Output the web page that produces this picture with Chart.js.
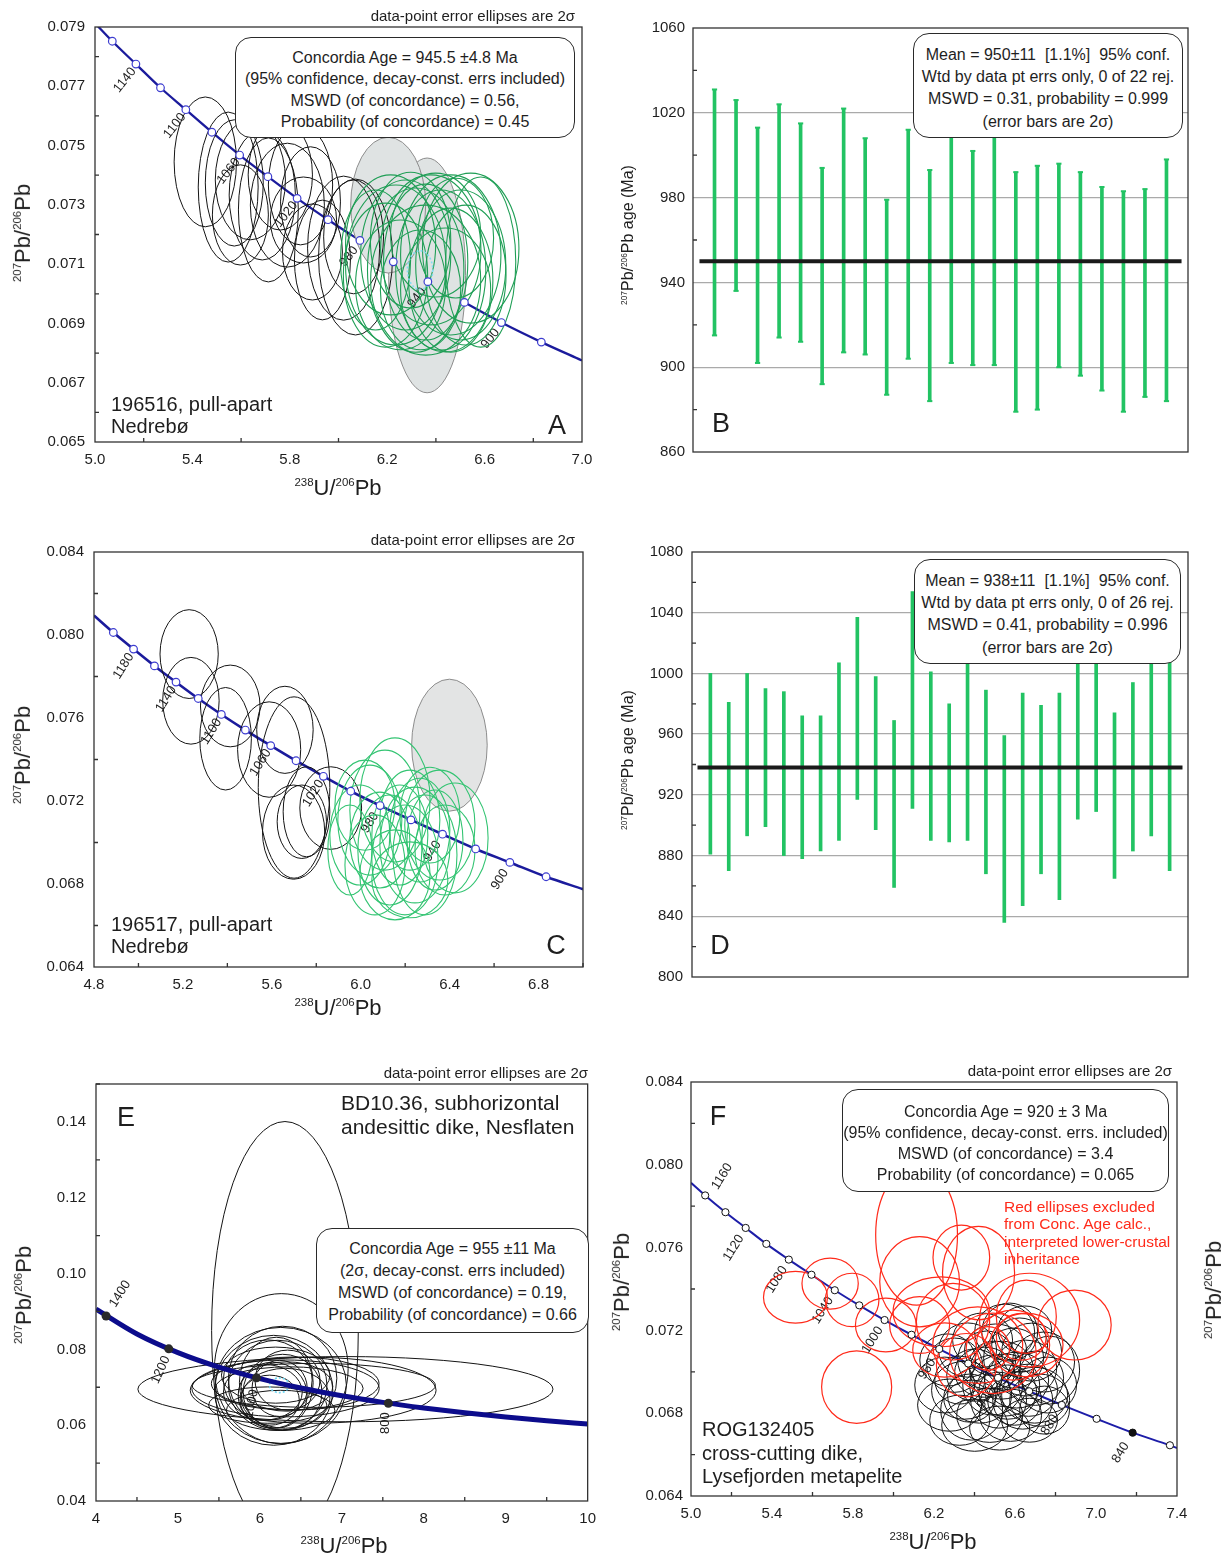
<!DOCTYPE html>
<html>
<head>
<meta charset="utf-8">
<script src="https://cdn.jsdelivr.net/npm/chart.js@4.4.1/dist/chart.umd.min.js"></script>
<style>
  body { margin: 0; background: #fff; }
  #page { position: relative; width: 1228px; height: 1557px; overflow: hidden;
          font-family: "Liberation Sans", Arial, sans-serif; color: #1e1e1e; }
  canvas { position: absolute; }
  .tx { position: absolute; white-space: nowrap; line-height: 1; }
  .mid { transform: translate(-50%, -50%); }
  .rot { transform: translate(-50%, -50%) rotate(-90deg); }
  .s { font-size: 0.52em; vertical-align: 0.8em; }
  .box { position: absolute; box-sizing: border-box; border: 1.3px solid #2a2a2a; border-radius: 16px;
         background: #fff; text-align: center; font-size: 16px; white-space: nowrap; }
  .dp { font-size: 15px; }
</style>
</head>
<body>
<div id="page">
  <canvas id="cA" width="605" height="510" style="left:0;top:0"></canvas>
  <canvas id="cB" width="623" height="510" style="left:605px;top:0"></canvas>
  <canvas id="cC" width="605" height="520" style="left:0;top:520px"></canvas>
  <canvas id="cD" width="623" height="520" style="left:605px;top:520px"></canvas>
  <canvas id="cE" width="605" height="507" style="left:0;top:1050px"></canvas>
  <canvas id="cF" width="623" height="507" style="left:605px;top:1050px"></canvas>

  <!-- A -->
  <div class="tx dp" style="right:653px;top:8px">data-point error ellipses are 2σ</div>
  <div class="box" style="left:235px;top:37px;width:340px;height:101px;padding-top:9px;line-height:21.3px">
    Concordia Age = 945.5 ±4.8 Ma<br>(95% confidence, decay-const. errs included)<br>MSWD (of concordance) = 0.56,<br>Probability (of concordance) = 0.45</div>
  <div class="tx" style="left:111px;top:393px;font-size:20px;line-height:22px">196516, pull-apart<br>Nedrebø</div>
  <div class="tx mid" style="left:557px;top:425px;font-size:27px">A</div>
  <div class="tx rot" style="left:23px;top:233px;font-size:22px"><span class="s">207</span>Pb/<span class="s">206</span>Pb</div>
  <div class="tx mid" style="left:338px;top:488px;font-size:22px"><span class="s">238</span>U/<span class="s">206</span>Pb</div>

  <!-- B -->
  <div class="box" style="left:913px;top:33px;width:270px;height:105px;padding-top:10px;line-height:22.2px">
    Mean = 950±11&nbsp; [1.1%]&nbsp; 95% conf.<br>Wtd by data pt errs only, 0 of 22 rej.<br>MSWD = 0.31, probability = 0.999<br>(error bars are 2σ)</div>
  <div class="tx mid" style="left:721px;top:423px;font-size:27px">B</div>
  <div class="tx rot" style="left:628px;top:235px;font-size:16px"><span class="s">207</span>Pb/<span class="s">206</span>Pb age (Ma)</div>

  <!-- C -->
  <div class="tx dp" style="right:653px;top:532px">data-point error ellipses are 2σ</div>
  <div class="tx" style="left:111px;top:913px;font-size:20px;line-height:22px">196517, pull-apart<br>Nedrebø</div>
  <div class="tx mid" style="left:556px;top:945px;font-size:27px">C</div>
  <div class="tx rot" style="left:23px;top:755px;font-size:22px"><span class="s">207</span>Pb/<span class="s">206</span>Pb</div>
  <div class="tx mid" style="left:338px;top:1008px;font-size:22px"><span class="s">238</span>U/<span class="s">206</span>Pb</div>

  <!-- D -->
  <div class="box" style="left:914px;top:559px;width:267px;height:105px;padding-top:10px;line-height:22.2px">
    Mean = 938±11&nbsp; [1.1%]&nbsp; 95% conf.<br>Wtd by data pt errs only, 0 of 26 rej.<br>MSWD = 0.41, probability = 0.996<br>(error bars are 2σ)</div>
  <div class="tx mid" style="left:720px;top:945px;font-size:27px">D</div>
  <div class="tx rot" style="left:628px;top:760px;font-size:16px"><span class="s">207</span>Pb/<span class="s">206</span>Pb age (Ma)</div>

  <!-- E -->
  <div class="tx dp" style="right:640px;top:1065px">data-point error ellipses are 2σ</div>
  <div class="tx mid" style="left:126px;top:1117px;font-size:27px">E</div>
  <div class="tx" style="left:341px;top:1091px;font-size:21px;line-height:24px">BD10.36, subhorizontal<br>andesittic dike, Nesflaten</div>
  <div class="box" style="left:316px;top:1228px;width:273px;height:105px;padding-top:9px;line-height:22px">
    Concordia Age = 955 ±11 Ma<br>(2σ, decay-const. errs included)<br>MSWD (of concordance) = 0.19,<br>Probability (of concordance) = 0.66</div>
  <div class="tx rot" style="left:24px;top:1295px;font-size:22px"><span class="s">207</span>Pb/<span class="s">206</span>Pb</div>
  <div class="tx mid" style="left:344px;top:1546px;font-size:22px"><span class="s">238</span>U/<span class="s">206</span>Pb</div>

  <!-- F -->
  <div class="tx dp" style="right:56px;top:1063px">data-point error ellipses are 2σ</div>
  <div class="tx mid" style="left:718px;top:1116px;font-size:27px">F</div>
  <div class="box" style="left:842px;top:1089px;width:327px;height:103px;padding-top:11px;line-height:21px">
    Concordia Age = 920 ± 3 Ma<br>(95% confidence, decay-const. errs. included)<br>MSWD (of concordance) = 3.4<br>Probability (of concordance) = 0.065</div>
  <div class="tx" style="left:1004px;top:1198px;font-size:15.5px;line-height:17.3px;color:#ff2a1a">Red ellipses excluded<br>from Conc. Age calc.,<br>interpreted lower-crustal<br>inheritance</div>
  <div class="tx" style="left:702px;top:1418px;font-size:20px;line-height:23.5px">ROG132405<br>cross-cutting dike,<br>Lysefjorden metapelite</div>
  <div class="tx rot" style="left:622px;top:1282px;font-size:22px"><span class="s">207</span>Pb/<span class="s">206</span>Pb</div>
  <div class="tx mid" style="left:933px;top:1542px;font-size:22px"><span class="s">238</span>U/<span class="s">206</span>Pb</div>
  <div class="tx rot" style="left:1214px;top:1290px;font-size:22px"><span class="s">207</span>Pb/<span class="s">206</span>Pb</div>
</div>

<script>
const FONT = '"Liberation Sans", Arial, sans-serif';

// ---------- A : 196516 ----------
const aAges = [1160, 1140, 1120, 1100, 1080, 1060, 1040, 1020, 1000, 980, 960, 940, 920, 900, 880];
const aMarkX = [5.071, 5.168, 5.269, 5.373, 5.480, 5.594, 5.710, 5.830, 5.957, 6.088, 6.225, 6.367, 6.517, 6.669, 6.833];
const aMarkY = [0.07852, 0.07775, 0.07695, 0.07621, 0.07545, 0.07468, 0.07395, 0.07322, 0.07250, 0.07180, 0.07108, 0.07041, 0.06971, 0.06903, 0.06837];
const aEnds = [[5.0, 0.07913], [7.0, 0.06775]];
const aLabelled = [1140, 1100, 1060, 1020, 980, 940, 900];
// ellipses: [centre x, centre y, half width, half height]
const aBlack = [
  [5.453, 0.07445, 0.128, 0.00219], [5.547, 0.07360, 0.123, 0.00253], [5.572, 0.07374, 0.119, 0.00213],
  [5.712, 0.07283, 0.123, 0.00243], [6.070, 0.07124, 0.152, 0.00263], [6.021, 0.07154, 0.148, 0.00243],
  [5.885, 0.07310, 0.123, 0.00186], [5.856, 0.07249, 0.136, 0.00145], [5.790, 0.07299, 0.152, 0.00209],
  [5.893, 0.07141, 0.123, 0.00162], [6.062, 0.07192, 0.123, 0.00192], [5.638, 0.07384, 0.144, 0.00202],
  [5.687, 0.07333, 0.136, 0.00219], [5.761, 0.07401, 0.132, 0.00186], [5.844, 0.07367, 0.132, 0.00202],
  [5.934, 0.07114, 0.115, 0.00202], [5.597, 0.07266, 0.115, 0.00169]
];
const aGreen = [
  [6.235, 0.07097, 0.206, 0.00270], [6.276, 0.07131, 0.185, 0.00253], [6.317, 0.07080, 0.198, 0.00277],
  [6.358, 0.07107, 0.173, 0.00263], [6.379, 0.07148, 0.206, 0.00253], [6.420, 0.07080, 0.185, 0.00270],
  [6.461, 0.07131, 0.206, 0.00270], [6.502, 0.07097, 0.185, 0.00253], [6.543, 0.07154, 0.198, 0.00253],
  [6.523, 0.07063, 0.165, 0.00236], [6.193, 0.07063, 0.173, 0.00243], [6.255, 0.07030, 0.185, 0.00219],
  [6.337, 0.07013, 0.165, 0.00202], [6.440, 0.07013, 0.185, 0.00209], [6.296, 0.07181, 0.165, 0.00229],
  [6.399, 0.07198, 0.185, 0.00209], [6.481, 0.07188, 0.156, 0.00202], [6.152, 0.07114, 0.144, 0.00236],
  [6.584, 0.07107, 0.144, 0.00287], [6.214, 0.07165, 0.185, 0.00236], [6.358, 0.07046, 0.226, 0.00253],
  [6.461, 0.07046, 0.173, 0.00243]
];
const aGrey = [[6.364, 0.07062, 0.158, 0.00396], [6.204, 0.07299, 0.154, 0.00229]];
const aConc = [[6.335, 0.07080, 0.052, 0.00065]];

// ---------- B : 207Pb/206Pb ages, 196516 ----------
const bLow = [915, 936, 902, 914, 912, 892, 907, 906, 887, 904, 884, 902, 901, 901, 879, 880, 900, 896, 889, 879, 886, 884];
const bHigh = [1031, 1026, 1013, 1024, 1015, 994, 1022, 1008, 979, 1012, 993, 1014, 1002, 1012, 992, 995, 996, 992, 985, 983, 984, 998];
const bMean = 950;
const bMeanSpan = [0.3, 22.7];

// ---------- C : 196517 ----------
const cAges = [1200, 1180, 1160, 1140, 1120, 1100, 1080, 1060, 1040, 1020, 1000, 980, 960, 940, 920, 900, 880];
const cMarkX = [4.887, 4.978, 5.072, 5.169, 5.269, 5.373, 5.481, 5.595, 5.709, 5.832, 5.955, 6.087, 6.226, 6.368, 6.517, 6.671, 6.834];
const cMarkY = [0.08012, 0.07932, 0.07851, 0.07773, 0.07694, 0.07617, 0.07542, 0.07467, 0.07394, 0.07319, 0.07247, 0.07178, 0.07109, 0.07040, 0.06969, 0.06904, 0.06835];
const cEnds = [[4.8, 0.08094], [7.0, 0.06775]];
const cLabelled = [1180, 1140, 1100, 1060, 1020, 980, 940, 900];
const cBlack = [
  [5.228, 0.07908, 0.131, 0.00214], [5.236, 0.07683, 0.127, 0.00209], [5.413, 0.07658, 0.134, 0.00197],
  [5.392, 0.07500, 0.116, 0.00247], [5.588, 0.07448, 0.142, 0.00230], [5.659, 0.07543, 0.127, 0.00210],
  [5.700, 0.07265, 0.161, 0.00437], [5.698, 0.07050, 0.140, 0.00227], [5.735, 0.07100, 0.111, 0.00177],
  [5.865, 0.07166, 0.139, 0.00199], [5.756, 0.07148, 0.105, 0.00217]
];
const cGreen = [
  [5.996, 0.07036, 0.135, 0.00241], [6.041, 0.07108, 0.144, 0.00265], [6.086, 0.07012, 0.135, 0.00231],
  [6.109, 0.07156, 0.158, 0.00289], [6.131, 0.06964, 0.144, 0.00265], [6.154, 0.07205, 0.158, 0.00299],
  [6.176, 0.07036, 0.126, 0.00241], [6.199, 0.06916, 0.149, 0.00265], [6.221, 0.07108, 0.135, 0.00241],
  [6.244, 0.06988, 0.158, 0.00279], [6.266, 0.07060, 0.135, 0.00250], [6.289, 0.06940, 0.144, 0.00289],
  [6.311, 0.07132, 0.135, 0.00231], [6.334, 0.07012, 0.126, 0.00241], [6.064, 0.06892, 0.135, 0.00241],
  [6.154, 0.06844, 0.158, 0.00217], [6.356, 0.07084, 0.158, 0.00265], [6.424, 0.07022, 0.149, 0.00265],
  [5.951, 0.06964, 0.099, 0.00217], [6.221, 0.06820, 0.171, 0.00183], [6.379, 0.06964, 0.135, 0.00217],
  [6.019, 0.07180, 0.135, 0.00217]
];
const cGrey = [[6.399, 0.07469, 0.170, 0.00318]];

// ---------- D : 207Pb/206Pb ages, 196517 ----------
const dLow = [881, 870, 893, 899, 880, 878, 883, 890, 917, 897, 859, 911, 890, 889, 890, 868, 836, 847, 868, 851, 904, 909, 865, 883, 893, 870];
const dHigh = [1000, 981, 1000, 990, 988, 972, 972, 1007, 1037, 998, 969, 1054, 1001, 980, 1010, 989, 959, 987, 979, 987, 1018, 1014, 974, 994, 1012, 1008];
const dMean = 938;
const dMeanSpan = [0.3, 26.7];

// ---------- E : BD10.36 ----------
const eCurveX = [4.0, 4.5, 5.0, 5.5, 6.0, 6.5, 7.0, 7.5, 8.0, 8.5, 9.0, 9.5, 10.0];
const eCurveY = [0.09062, 0.08405, 0.07913, 0.07531, 0.07228, 0.06980, 0.06775, 0.06602, 0.06454, 0.06326, 0.06215, 0.06117, 0.06030];
const eAges = [1400, 1200, 1000, 800];
const eMarkX = [4.123, 4.888, 5.959, 7.568];
const eMarkY = [0.08881, 0.08013, 0.07249, 0.06580];
const eBlack = [
  [6.306, 0.0850, 0.895, 0.0551], [6.261, 0.0749, 0.816, 0.0198], [6.256, 0.0705, 0.800, 0.0153],
  [7.044, 0.0695, 2.533, 0.0086], [6.658, 0.0705, 1.484, 0.0058], [6.650, 0.0692, 1.500, 0.0087],
  [6.431, 0.0710, 1.023, 0.0070], [6.168, 0.0692, 0.722, 0.0145], [6.217, 0.0705, 0.602, 0.0119],
  [6.096, 0.0719, 0.542, 0.0106], [6.277, 0.0687, 0.481, 0.0100], [6.156, 0.0679, 0.421, 0.0087],
  [6.241, 0.0697, 0.337, 0.0074], [6.120, 0.0666, 0.361, 0.0066], [6.337, 0.0719, 0.397, 0.0079],
  [6.036, 0.0687, 0.481, 0.0074], [6.313, 0.0671, 0.542, 0.0079], [6.193, 0.0732, 0.662, 0.0074],
  [6.253, 0.0639, 0.662, 0.0053], [6.096, 0.0653, 0.722, 0.0048], [6.313, 0.0697, 1.143, 0.0075],
  [6.357, 0.0697, 0.903, 0.0057], [6.277, 0.0724, 0.662, 0.0137], [6.200, 0.0712, 0.450, 0.0120],
  [6.330, 0.0702, 0.560, 0.0065]
];
const eConc = [[6.237, 0.07053, 0.120, 0.00194]];

// ---------- F : ROG132405 ----------
const fAges = [1160, 1140, 1120, 1100, 1080, 1060, 1040, 1020, 1000, 980, 960, 940, 920, 900, 880, 860, 840, 820];
const fMarkX = [5.070, 5.170, 5.270, 5.372, 5.483, 5.595, 5.710, 5.831, 5.956, 6.089, 6.226, 6.369, 6.516, 6.670, 6.831, 7.003, 7.181, 7.365];
const fMarkY = [0.07852, 0.07771, 0.07695, 0.07618, 0.07542, 0.07469, 0.07394, 0.07321, 0.07250, 0.07179, 0.07110, 0.07040, 0.06971, 0.06906, 0.06840, 0.06773, 0.06706, 0.06645];
const fEnds = [[5.0, 0.07913], [7.4, 0.06632]];
const fLabelled = [1160, 1120, 1080, 1040, 1000, 960, 920, 880, 840];
const fBlack = [
  [6.253, 0.06936, 0.148, 0.00135], [6.277, 0.06839, 0.158, 0.00126], [6.302, 0.07032, 0.138, 0.00131],
  [6.327, 0.06766, 0.148, 0.00121], [6.351, 0.06911, 0.163, 0.00140], [6.366, 0.07105, 0.143, 0.00131],
  [6.386, 0.06815, 0.153, 0.00145], [6.401, 0.06984, 0.138, 0.00126], [6.425, 0.06887, 0.158, 0.00135],
  [6.440, 0.07153, 0.148, 0.00131], [6.460, 0.07057, 0.143, 0.00140], [6.475, 0.06790, 0.163, 0.00131],
  [6.490, 0.06936, 0.148, 0.00145], [6.504, 0.07105, 0.153, 0.00126], [6.519, 0.06863, 0.138, 0.00135],
  [6.534, 0.07008, 0.158, 0.00140], [6.549, 0.07192, 0.148, 0.00135], [6.564, 0.06902, 0.143, 0.00131],
  [6.578, 0.06790, 0.153, 0.00126], [6.593, 0.07066, 0.148, 0.00145], [6.608, 0.06960, 0.158, 0.00135],
  [6.623, 0.07129, 0.138, 0.00131], [6.638, 0.06863, 0.148, 0.00140], [6.653, 0.07018, 0.153, 0.00135],
  [6.667, 0.06911, 0.143, 0.00126], [6.682, 0.07095, 0.148, 0.00140], [6.702, 0.06969, 0.138, 0.00131],
  [6.722, 0.06863, 0.148, 0.00126], [6.741, 0.07047, 0.153, 0.00145], [6.761, 0.06936, 0.143, 0.00135],
  [6.771, 0.07008, 0.148, 0.00164], [6.401, 0.06742, 0.163, 0.00126], [6.524, 0.06728, 0.148, 0.00106],
  [6.672, 0.06766, 0.138, 0.00106], [6.268, 0.07057, 0.138, 0.00126], [6.574, 0.07192, 0.138, 0.00140],
  [6.450, 0.06998, 0.148, 0.00121], [6.598, 0.06863, 0.133, 0.00121], [6.500, 0.07032, 0.128, 0.00116],
  [6.697, 0.06887, 0.163, 0.00135], [6.327, 0.06960, 0.123, 0.00116], [6.648, 0.07202, 0.133, 0.00116],
  [6.746, 0.06815, 0.123, 0.00116], [6.549, 0.06936, 0.173, 0.00150], [6.376, 0.06873, 0.128, 0.00116]
];
const fRed = [
  [5.687, 0.07426, 0.139, 0.00123], [5.516, 0.07360, 0.158, 0.00125], [5.796, 0.07347, 0.132, 0.00129],
  [5.962, 0.07226, 0.150, 0.00130], [5.818, 0.06926, 0.173, 0.00175], [6.114, 0.07661, 0.202, 0.00339],
  [6.335, 0.07552, 0.140, 0.00157], [6.420, 0.07477, 0.178, 0.00226], [6.672, 0.07250, 0.247, 0.00226],
  [6.894, 0.07226, 0.181, 0.00169], [6.129, 0.07435, 0.197, 0.00218], [6.236, 0.07290, 0.238, 0.00169],
  [6.294, 0.07242, 0.181, 0.00185], [6.129, 0.07226, 0.148, 0.00137], [6.416, 0.07129, 0.222, 0.00185],
  [6.491, 0.07089, 0.214, 0.00194], [6.590, 0.07129, 0.181, 0.00169], [6.656, 0.07129, 0.181, 0.00153],
  [6.656, 0.07266, 0.148, 0.00177], [6.253, 0.07105, 0.158, 0.00131], [6.466, 0.07113, 0.107, 0.00105],
  [6.360, 0.07032, 0.148, 0.00153], [6.631, 0.07169, 0.123, 0.00113]
];

// ---------- helpers ----------
function isMajor(v, a) {
  const k = (v - a.min) / a.major;
  return Math.abs(k - Math.round(k)) < 1e-6;
}

function axis(a, pos, size) {
  return {
    type: 'linear', min: a.min, max: a.max, offset: false,
    grid: {display: false, drawTicks: false},
    border: {display: false},
    ticks: {
      stepSize: a.minor, autoSkip: false, maxRotation: 0, padding: a.pad, color: '#1e1e1e',
      font: {family: FONT, size: 15},
      callback: v => isMajor(v, a) ? v.toFixed(a.dec) : ''
    },
    afterFit: s => { if (pos === 'x') s.height = size; else s.width = size; }
  };
}

function frame(chart, withX) {
  const {ctx, chartArea: a, scales} = chart;
  ctx.save();
  ctx.strokeStyle = '#333';
  ctx.lineWidth = 1.3;
  ctx.beginPath();
  if (withX) {
    scales.x.ticks.forEach(t => {
      if (t.label !== '') return;
      const p = scales.x.getPixelForValue(t.value);
      ctx.moveTo(p, a.bottom); ctx.lineTo(p, a.bottom - 4);
    });
  }
  scales.y.ticks.forEach(t => {
    if (t.label !== '') return;
    const p = scales.y.getPixelForValue(t.value);
    ctx.moveTo(a.left, p); ctx.lineTo(a.left + 4, p);
  });
  ctx.stroke();
  ctx.strokeRect(a.left, a.top, a.right - a.left, a.bottom - a.top);
  ctx.restore();
}

function drawEllipses(chart, layer) {
  const {ctx, scales: {x, y}} = chart;
  ctx.lineWidth = layer.lw;
  ctx.strokeStyle = layer.stroke;
  ctx.setLineDash(layer.dash || []);
  layer.list.forEach(e => {
    const px = x.getPixelForValue(e[0]);
    const py = y.getPixelForValue(e[1]);
    const rx = Math.abs(x.getPixelForValue(e[0] + e[2]) - px);
    const ry = Math.abs(py - y.getPixelForValue(e[1] + e[3]));
    ctx.beginPath();
    ctx.ellipse(px, py, rx, ry, 0, 0, Math.PI * 2);
    if (layer.fill) { ctx.fillStyle = layer.fill; ctx.fill(); }
    ctx.stroke();
  });
  ctx.setLineDash([]);
}

function drawAgeLabels(chart, o) {
  const {ctx, scales: {x, y}} = chart;
  ctx.fillStyle = '#1e1e1e';
  ctx.font = '13px ' + FONT;
  ctx.textAlign = 'center';
  ctx.textBaseline = 'middle';
  o.labelled.forEach((age, k) => {
    const i = o.ages.indexOf(age);
    const st = o.labStyle(age, k);
    ctx.save();
    ctx.translate(x.getPixelForValue(o.markX[i]) + st.dx, y.getPixelForValue(o.markY[i]) + st.dy);
    ctx.rotate(st.rot * Math.PI / 180);
    ctx.fillText(String(age), 0, 0);
    ctx.restore();
  });
}

function concPlugin(o) {
  const paint = chart => {
    const {ctx, chartArea: a} = chart;
    ctx.save();
    ctx.beginPath();
    ctx.rect(a.left, a.top, a.right - a.left, a.bottom - a.top);
    ctx.clip();
    (o.under || []).forEach(l => drawEllipses(chart, l));
    drawAgeLabels(chart, o);
    o.over.forEach(l => drawEllipses(chart, l));
    ctx.restore();
  };
  return {
    id: 'conc' + o.id,
    beforeDatasetsDraw(chart) { if (o.belowLine) paint(chart); },
    afterDatasetDraw(chart, args) { if (!o.belowLine && args.index === 0) paint(chart); },
    afterDraw(chart) { frame(chart, true); }
  };
}

function concordia(o) {
  const marks = o.markX.map((v, i) => ({x: v, y: o.markY[i]}));
  return new Chart(document.getElementById(o.id), {
    type: 'scatter',
    data: {
      datasets: [
        {data: o.curve, showLine: true, borderColor: o.lineColor, borderWidth: o.lineWidth,
         cubicInterpolationMode: 'monotone', pointRadius: 0, order: 2},
        {data: marks, showLine: false, pointRadius: o.markR, pointBorderWidth: o.markBW,
         pointBorderColor: o.markStroke, pointBackgroundColor: o.markFill, order: 1}
      ]
    },
    options: {
      responsive: false, animation: false, devicePixelRatio: 1, events: [],
      layout: {padding: o.pad},
      plugins: {legend: {display: false}, tooltip: {enabled: false}},
      scales: {x: axis(o.x, 'x', o.xH), y: axis(o.y, 'y', o.yW)}
    },
    plugins: [concPlugin(o)]
  });
}

function ageChart(o) {
  const bars = o.low.map((lo, i) => ({x: i + 1, y: [lo, o.high[i]]}));
  const sets = [
    {type: 'line', data: o.meanSpan.map(v => ({x: v, y: o.mean})), borderColor: '#1a1a1a',
     borderWidth: 4, pointRadius: 0, order: 0},
    {type: 'bar', data: bars, backgroundColor: o.color, barThickness: 3, order: 2}
  ];
  if (o.caps) {
    const caps = [];
    o.low.forEach((lo, i) => caps.push({x: i + 1, y: lo}, {x: i + 1, y: o.high[i]}));
    sets.push({type: 'scatter', data: caps, pointStyle: 'line', pointRadius: 2.6,
               pointBorderWidth: 2, pointBorderColor: o.color, order: 1});
  }
  const y = axis(o.y, 'y', o.yW);
  y.grid = {
    drawTicks: false, lineWidth: 1.3,
    color: c => (c.tick && c.tick.label !== '' && c.tick.value > o.y.min && c.tick.value < o.y.max) ? '#aaaaaa' : 'rgba(0,0,0,0)'
  };
  return new Chart(document.getElementById(o.id), {
    type: 'bar',
    data: {datasets: sets},
    options: {
      responsive: false, animation: false, devicePixelRatio: 1, events: [],
      layout: {padding: o.pad},
      plugins: {legend: {display: false}, tooltip: {enabled: false}},
      scales: {x: {type: 'linear', min: 0, max: o.low.length + 1, offset: false, display: false}, y}
    },
    plugins: [{id: 'frame' + o.id, afterDraw: ch => frame(ch, false)}]
  });
}

const curveOf = (ends, xs, ys) =>
  [{x: ends[0][0], y: ends[0][1]}, ...xs.map((v, i) => ({x: v, y: ys[i]})), {x: ends[1][0], y: ends[1][1]}];

// ---------- charts ----------
concordia({
  id: 'cA', curve: curveOf(aEnds, aMarkX, aMarkY), ages: aAges, markX: aMarkX, markY: aMarkY,
  labelled: aLabelled, labStyle: () => ({dx: -11, dy: 16, rot: -52}),
  lineColor: '#1b1b9c', lineWidth: 2.3, markR: 3.8, markBW: 1.2, markStroke: '#3d3dd0', markFill: '#fff',
  x: {min: 5.0, max: 7.0, minor: 0.2, major: 0.4, dec: 1, pad: 9},
  y: {min: 0.065, max: 0.079, minor: 0.001, major: 0.002, dec: 3, pad: 10},
  pad: {left: 0, top: 27, right: 23, bottom: 0}, xH: 68, yW: 95,
  under: [{list: aGrey, fill: '#dfe3e3', stroke: '#8c8c8c', lw: 1}],
  over: [{list: aBlack, stroke: '#141414', lw: 1}, {list: aGreen, stroke: '#1f9e55', lw: 1.1},
         {list: aConc, stroke: '#84ddf3', lw: 1.6, dash: [2, 2]}]
});

ageChart({
  id: 'cB', low: bLow, high: bHigh, mean: bMean, meanSpan: bMeanSpan, color: '#22c363', caps: true,
  y: {min: 860, max: 1060, minor: 20, major: 40, dec: 0, pad: 8},
  pad: {left: 0, top: 28, right: 40, bottom: 58}, yW: 88
});

concordia({
  id: 'cC', curve: curveOf(cEnds, cMarkX, cMarkY), ages: cAges, markX: cMarkX, markY: cMarkY,
  labelled: cLabelled, labStyle: () => ({dx: -10, dy: 17, rot: -58}),
  lineColor: '#1b1b9c', lineWidth: 2.6, markR: 3.8, markBW: 1.2, markStroke: '#3d3dd0', markFill: '#fff',
  x: {min: 4.8, max: 7.0, minor: 0.2, major: 0.4, dec: 1, pad: 9},
  y: {min: 0.064, max: 0.084, minor: 0.002, major: 0.004, dec: 3, pad: 10},
  pad: {left: 0, top: 32, right: 22, bottom: 0}, xH: 73, yW: 94,
  under: [{list: cGrey, fill: '#e3e4e4', stroke: '#8c8c8c', lw: 1}],
  over: [{list: cBlack, stroke: '#141414', lw: 1}, {list: cGreen, stroke: '#33c472', lw: 1.1}]
});

ageChart({
  id: 'cD', low: dLow, high: dHigh, mean: dMean, meanSpan: dMeanSpan, color: '#22c363', caps: false,
  y: {min: 800, max: 1080, minor: 20, major: 40, dec: 0, pad: 9},
  pad: {left: 0, top: 32, right: 40, bottom: 63}, yW: 87
});

const eLabStyles = {1400: {dx: 14, dy: -22, rot: -58}, 1200: {dx: -8, dy: 21, rot: -65},
                    1000: {dx: -5, dy: 26, rot: -78}, 800: {dx: -3, dy: 20, rot: -90}};
concordia({
  id: 'cE', curve: eCurveX.map((v, i) => ({x: v, y: eCurveY[i]})), ages: eAges, markX: eMarkX, markY: eMarkY,
  labelled: eAges, labStyle: age => eLabStyles[age], belowLine: true,
  lineColor: '#0c0c8c', lineWidth: 5, markR: 4.5, markBW: 0, markStroke: '#2a2a2a', markFill: '#2a2a2a',
  x: {min: 4, max: 10, minor: 0.5, major: 1, dec: 0, pad: 9},
  y: {min: 0.04, max: 0.15, minor: 0.01, major: 0.02, dec: 2, pad: 10},
  pad: {left: 0, top: 34, right: 11, bottom: 0}, xH: 56, yW: 96,
  over: [{list: eBlack, stroke: '#141414', lw: 1}, {list: eConc, stroke: '#6fd6f2', lw: 1.6, dash: [2, 2]}]
});

concordia({
  id: 'cF', curve: curveOf(fEnds, fMarkX, fMarkY), ages: fAges, markX: fMarkX, markY: fMarkY,
  labelled: fLabelled, labStyle: age => age === 1160 ? {dx: 17, dy: -19, rot: -58} : {dx: -12, dy: 20, rot: -58},
  lineColor: '#1d1da8', lineWidth: 2, markR: 3.6, markBW: 1, markStroke: '#111',
  markFill: fAges.map(a => a === 840 ? '#111' : '#fff'),
  x: {min: 5.0, max: 7.4, minor: 0.2, major: 0.4, dec: 1, pad: 9},
  y: {min: 0.064, max: 0.084, minor: 0.002, major: 0.004, dec: 3, pad: 8},
  pad: {left: 0, top: 32, right: 51, bottom: 0}, xH: 61, yW: 86,
  over: [{list: fBlack, stroke: '#141414', lw: 1}, {list: fRed, stroke: '#ff2a1a', lw: 1.2}]
});
</script>
</body>
</html>
